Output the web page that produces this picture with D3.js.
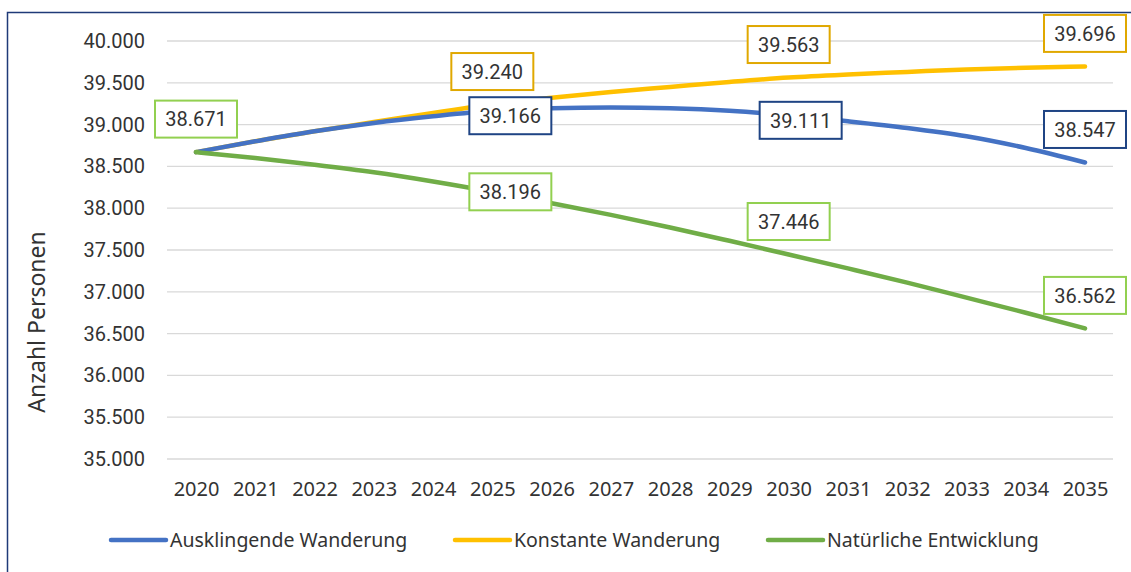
<!DOCTYPE html>
<html>
<head>
<meta charset="utf-8">
<script src="https://cdn.jsdelivr.net/npm/d3@7"></script>
<style>
  body { margin: 0; background: #fff; }
  svg { display: block; }
</style>
</head>
<body>
<div id="chart"></div>
<script>
// Data
const years = [2020, 2021, 2022, 2023, 2024, 2025, 2026, 2027, 2028, 2029, 2030, 2031, 2032, 2033, 2034, 2035];
const ausklingend = [38671, 38800, 38920, 39020, 39100, 39166, 39195, 39205, 39195, 39165, 39111, 39040, 38960, 38860, 38720, 38547];
const konstant = [38671, 38800, 38920, 39030, 39140, 39240, 39320, 39390, 39450, 39510, 39563, 39600, 39630, 39660, 39680, 39696];
const natuerlich = [38671, 38600, 38520, 38430, 38320, 38196, 38060, 37920, 37770, 37610, 37446, 37280, 37110, 36930, 36750, 36562];
const yTicks = [35000, 35500, 36000, 36500, 37000, 37500, 38000, 38500, 39000, 39500, 40000];
const seriesNames = ["Ausklingende Wanderung", "Konstante Wanderung", "Natürliche Entwicklung"];
// years that get a value label, per series
const labelYears = [[2025, 2030, 2035], [2025, 2030, 2035], [2020, 2025, 2030, 2035]];

const width = 1131, height = 572;
const svg = d3.select("#chart").append("svg")
  .attr("width", width)
  .attr("height", height);

// outer frame (only left + top visible)
svg.append("rect")
  .attr("x", 7.5).attr("y", 12.5)
  .attr("width", 1200).attr("height", 700)
  .attr("fill", "none")
  .attr("stroke", "#1f3a78")
  .attr("stroke-width", 1.5);

const x = d3.scalePoint()
  .domain(years)
  .range([196, 1085]);

const y = d3.scaleLinear()
  .domain([35000, 40000])
  .range([459, 41]);

const fmt = d3.format(",.0f");
const deFmt = v => fmt(v).replace(/,/g, ".");

// gridlines
svg.append("g")
  .selectAll("line")
  .data(yTicks)
  .join("line")
  .attr("x1", 167).attr("x2", 1113)
  .attr("y1", d => y(d)).attr("y2", d => y(d))
  .attr("stroke", "#d9d9d9")
  .attr("stroke-width", 1.3);

// y axis labels
const yAxis = d3.axisLeft(y).tickValues(yTicks).tickFormat(deFmt).tickSize(0).tickPadding(0);
svg.append("g")
  .attr("transform", "translate(145,0)")
  .call(yAxis)
  .call(g => g.select(".domain").remove())
  .selectAll("text")
  .attr("font-family", "Roboto, sans-serif")
  .attr("font-size", 20)
  .attr("fill", "#333");

// x axis labels
const xAxis = d3.axisBottom(x).tickSize(0).tickPadding(0);
svg.append("g")
  .attr("transform", "translate(0,482)")
  .call(xAxis)
  .call(g => g.select(".domain").remove())
  .selectAll("text")
  .attr("font-family", "'Noto Sans', sans-serif")
  .attr("font-size", 20)
  .attr("fill", "#333");

// y title
svg.append("text")
  .attr("transform", "translate(45,322) rotate(-90)")
  .attr("text-anchor", "middle")
  .attr("font-family", "'Noto Sans', sans-serif")
  .attr("font-size", 23)
  .attr("fill", "#333")
  .text("Anzahl Personen");

const colors = ["#4472c4", "#ffc000", "#70ad47"];
const boxColors = ["#1f4484", "#e0a800", "#92d050"];
const allSeries = [ausklingend, konstant, natuerlich];

const line = d3.line()
  .x((d, i) => x(years[i]))
  .y(d => y(d))
  .curve(d3.curveMonotoneX);

// yellow first so blue sits on top where they overlap
[1, 0, 2].forEach(s => {
  svg.append("path")
    .datum(allSeries[s])
    .attr("d", line)
    .attr("fill", "none")
    .attr("stroke", colors[s])
    .attr("stroke-width", 4.5)
    .attr("stroke-linecap", "round")
    .attr("stroke-linejoin", "round");
});

// label offsets relative to point (default: above)
function labelOffset(s, yr) {
  if (s === 0 && yr === 2025) return [18, 5];
  if (s === 0 && yr === 2030) return [12, 5];
  if (s === 2 && yr === 2025) return [18, 0];
  return [0, -33];
}

const boxW = 82, boxH = 37;
allSeries.forEach((vals, s) => {
  labelYears[s].forEach(yr => {
    const i = years.indexOf(yr);
    const [dx, dy] = labelOffset(s, yr);
    const cx = x(yr) + dx, cy = y(vals[i]) + dy;
    const g = svg.append("g").attr("transform", `translate(${cx},${cy})`);
    g.append("rect")
      .attr("x", -boxW / 2).attr("y", -boxH / 2)
      .attr("width", boxW).attr("height", boxH)
      .attr("fill", "#fff")
      .attr("stroke", boxColors[s])
      .attr("stroke-width", 2);
    g.append("text")
      .attr("text-anchor", "middle")
      .attr("dy", "0.36em")
      .attr("font-family", "Roboto, sans-serif")
      .attr("font-size", 20)
      .attr("fill", "#333")
      .text(deFmt(vals[i]));
  });
});

// legend
const legendX = [111, 455, 768];
seriesNames.forEach((name, s) => {
  const g = svg.append("g").attr("transform", `translate(${legendX[s]},540)`);
  g.append("line")
    .attr("x1", 0).attr("x2", 55)
    .attr("stroke", colors[s])
    .attr("stroke-width", 4.5)
    .attr("stroke-linecap", "round");
  g.append("text")
    .attr("x", 59)
    .attr("dy", "0.35em")
    .attr("font-family", "'Noto Sans', sans-serif")
    .attr("font-size", 19.5)
    .attr("fill", "#333")
    .text(name);
});
</script>
</body>
</html>
